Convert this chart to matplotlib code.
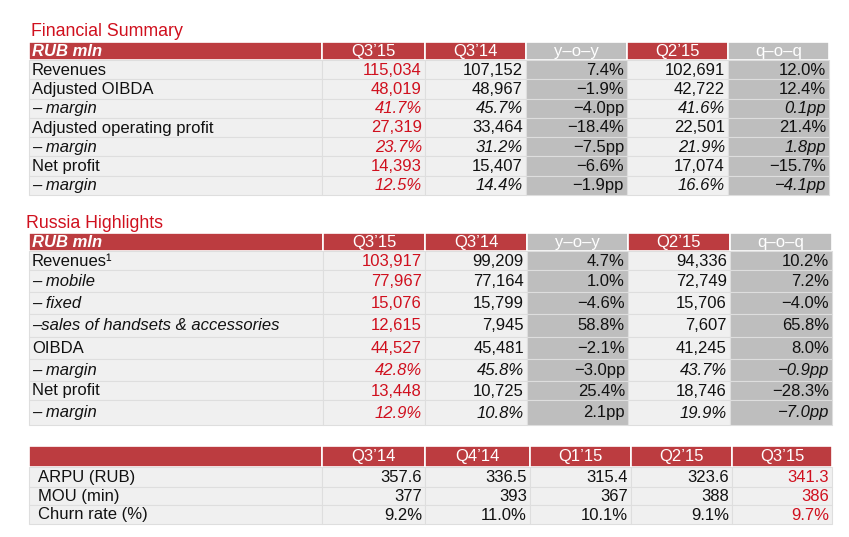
import matplotlib
matplotlib.use("Agg")
import matplotlib.pyplot as plt
from matplotlib.patches import Rectangle

plt.rcParams["font.family"] = ["Liberation Sans", "DejaVu Sans"]

# Colours
RED_FILL = "#bc3c40"
GREY_FILL = "#bebebe"
LIGHT_FILL = "#f0f0f0"
RED_TEXT = "#d0101e"
DARK_TEXT = "#111111"
FS = 12

# Financial Summary
fs_columns = ["Q3’15", "Q3’14", "y–o–y", "Q2’15", "q–o–q"]
fs_labels = ["Revenues", "Adjusted OIBDA", "– margin", "Adjusted operating profit",
             "– margin", "Net profit", "– margin"]
fs_q315 = ["115,034", "48,019", "41.7%", "27,319", "23.7%", "14,393", "12.5%"]
fs_q314 = ["107,152", "48,967", "45.7%", "33,464", "31.2%", "15,407", "14.4%"]
fs_yoy = ["7.4%", "−1.9%", "−4.0pp", "−18.4%", "−7.5pp", "−6.6%", "−1.9pp"]
fs_q215 = ["102,691", "42,722", "41.6%", "22,501", "21.9%", "17,074", "16.6%"]
fs_qoq = ["12.0%", "12.4%", "0.1pp", "21.4%", "1.8pp", "−15.7%", "−4.1pp"]
fs_label_italic = [False, False, True, False, True, False, True]
fs_value_italic = [False, False, True, False, True, False, True]

# Russia Highlights
rh_columns = ["Q3’15", "Q3’14", "y–o–y", "Q2’15", "q–o–q"]
rh_labels = ["Revenues¹", "– mobile", "– fixed", "–sales of handsets & accessories",
             "OIBDA", "– margin", "Net profit", "– margin"]
rh_q315 = ["103,917", "77,967", "15,076", "12,615", "44,527", "42.8%", "13,448", "12.9%"]
rh_q314 = ["99,209", "77,164", "15,799", "7,945", "45,481", "45.8%", "10,725", "10.8%"]
rh_yoy = ["4.7%", "1.0%", "−4.6%", "58.8%", "−2.1%", "−3.0pp", "25.4%", "2.1pp"]
rh_q215 = ["94,336", "72,749", "15,706", "7,607", "41,245", "43.7%", "18,746", "19.9%"]
rh_qoq = ["10.2%", "7.2%", "−4.0%", "65.8%", "8.0%", "−0.9pp", "−28.3%", "−7.0pp"]
rh_label_italic = [False, True, True, True, False, True, False, True]
rh_value_italic = [False, False, False, False, False, True, False, True]

# Operating data
op_columns = ["Q3’14", "Q4’14", "Q1’15", "Q2’15", "Q3’15"]
op_labels = ["ARPU (RUB)", "MOU (min)", "Churn rate (%)"]
op_arpu = ["357.6", "336.5", "315.4", "323.6", "341.3"]
op_mou = ["377", "393", "367", "388", "386"]
op_churn = ["9.2%", "11.0%", "10.1%", "9.1%", "9.7%"]


def draw_table(ax, col_edges, row_edges, first_header, columns, labels, values,
               label_italic, value_italic, red_col, grey_cols, label_pad,
               upright_cols=()):
    # header row
    top, bottom = row_edges[0], row_edges[1]
    for j in range(len(col_edges) - 1):
        fill = GREY_FILL if (j - 1) in grey_cols else RED_FILL
        ax.add_patch(Rectangle((col_edges[j], top), col_edges[j + 1] - col_edges[j],
                               bottom - top, facecolor=fill, edgecolor="white", lw=1.2))
    ymid = (top + bottom) / 2 + 0.5
    ax.text(col_edges[0] + label_pad, ymid, first_header, color="white", fontsize=FS,
            fontweight="bold", style="italic", ha="left", va="center")
    for j, name in enumerate(columns):
        xc = (col_edges[j + 1] + col_edges[j + 2]) / 2
        ax.text(xc, ymid, name, color="white", fontsize=FS, ha="center", va="center")

    # body rows
    for i, label in enumerate(labels):
        top, bottom = row_edges[i + 1], row_edges[i + 2]
        ymid = (top + bottom) / 2 + 0.5
        for j in range(len(col_edges) - 1):
            fill = GREY_FILL if (j - 1) in grey_cols else LIGHT_FILL
            ax.add_patch(Rectangle((col_edges[j], top), col_edges[j + 1] - col_edges[j],
                                   bottom - top, facecolor=fill, edgecolor="#dedede",
                                   lw=0.8))
        ax.text(col_edges[0] + label_pad, ymid, label, color=DARK_TEXT, fontsize=FS,
                style="italic" if label_italic[i] else "normal", ha="left", va="center")
        for j, col in enumerate(values):
            vst = "italic" if (value_italic[i] and j not in upright_cols) else "normal"
            color = RED_TEXT if j == red_col else DARK_TEXT
            ax.text(col_edges[j + 2] - 3, ymid, col[i], color=color, fontsize=FS,
                    style=vst, ha="right", va="center")


fig = plt.figure(figsize=(8.49, 5.37), dpi=100)
ax = fig.add_axes([0, 0, 1, 1])
ax.set_xlim(0, 849)
ax.set_ylim(537, 0)
ax.axis("off")

ax.text(31, 32, "Financial Summary", color=RED_TEXT, fontsize=12.8, ha="left", va="center")
draw_table(ax, [29, 322, 425, 526, 627, 728, 829],
           [42, 60, 79.3, 98.6, 117.9, 137.1, 156.4, 175.7, 195],
           "RUB mln", fs_columns, fs_labels,
           [fs_q315, fs_q314, fs_yoy, fs_q215, fs_qoq],
           fs_label_italic, fs_value_italic, red_col=0, grey_cols=(2, 4),
           label_pad=3, upright_cols=(2,))

ax.text(26, 223, "Russia Highlights", color=RED_TEXT, fontsize=12.8, ha="left", va="center")
draw_table(ax, [29, 323, 425, 527, 628, 730, 832],
           [233, 251, 270, 292, 314, 337, 359, 381, 400, 425],
           "RUB mln", rh_columns, rh_labels,
           [rh_q315, rh_q314, rh_yoy, rh_q215, rh_qoq],
           rh_label_italic, rh_value_italic, red_col=0, grey_cols=(2, 4),
           label_pad=3, upright_cols=(2,))

draw_table(ax, [29, 322, 425, 530, 631, 732, 832],
           [446, 467, 487, 505, 524],
           "", op_columns, op_labels,
           [[op_arpu[k], op_mou[k], op_churn[k]] for k in range(5)],
           [False] * 3, [False] * 3, red_col=4, grey_cols=(), label_pad=9)

fig.savefig("out.png", dpi=100)
